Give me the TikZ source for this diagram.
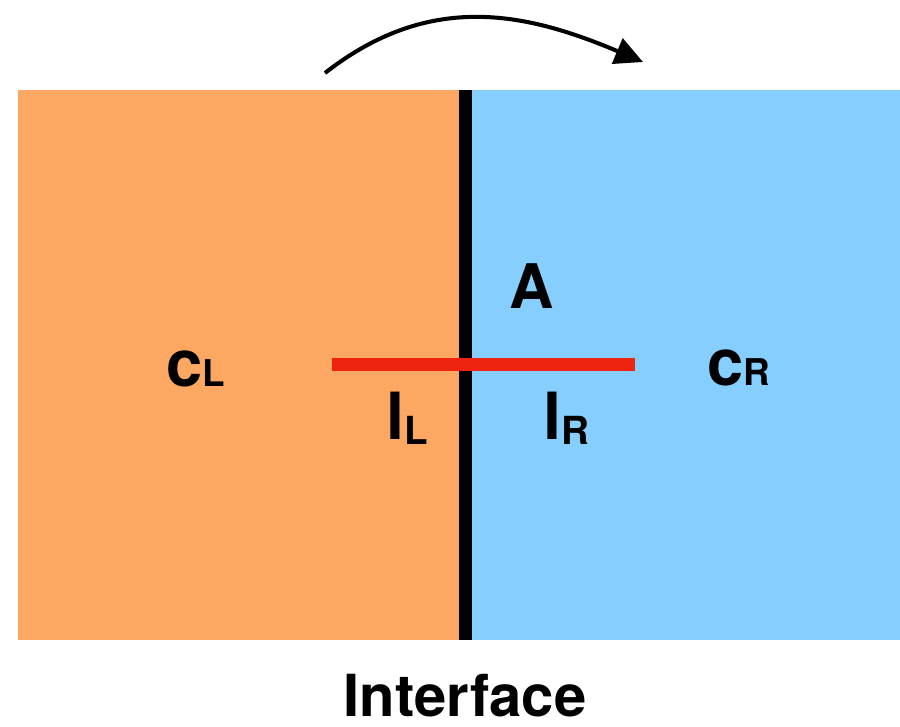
\documentclass[tikz,border=0pt]{standalone}
\usepackage{fontspec}
\setmainfont{TeX Gyre Heros}
\usetikzlibrary{arrows.meta}
\definecolor{leftfill}{HTML}{FCA862}
\definecolor{rightfill}{HTML}{85CEFD}
\definecolor{cutred}{HTML}{EE2410}
\tikzset{lbl/.style={font=\bfseries, inner sep=0pt, anchor=base}}
\begin{document}
\begin{tikzpicture}
\useasboundingbox (0,0) rectangle (18,14.54);
\fill[leftfill] (0.36,1.74) rectangle (9.31,12.74);
\fill[rightfill] (9.31,1.74) rectangle (18,12.74);
\draw[line width=7.2pt] (9.31,1.74) -- (9.31,12.74);
\draw[cutred, line width=7.4pt] (6.64,7.24) -- (12.7,7.24);

\coordinate (from) at (6.5,13.08);
\coordinate (to) at (12.86,13.3);
\draw[line width=2.3pt, -{Triangle[length=0.56cm,width=0.54cm]}] (from) to[out=38, in=157, looseness=1.05] (to);

\node[lbl] (cl) at (3.92,6.8) {\fontsize{37}{37}\selectfont c\fontsize{21}{21}\selectfont L};
\node[lbl] (cr) at (14.78,6.82) {\fontsize{37}{37}\selectfont c\fontsize{21}{21}\selectfont R};
\node[lbl] (area) at (10.64,8.36) {\fontsize{35}{35}\selectfont A};
\node[lbl] (ll) at (8.14,5.74) {\fontsize{37}{37}\selectfont l\raisebox{-2.8pt}{\fontsize{22}{22}\selectfont L}};
\node[lbl] (lr) at (11.32,5.74) {\fontsize{37}{37}\selectfont l\raisebox{-2.8pt}{\fontsize{22}{22}\selectfont R}};
\node[lbl] (iface) at (9.3,0.2) {\fontsize{33}{33}\selectfont Interface};
\end{tikzpicture}
\end{document}
